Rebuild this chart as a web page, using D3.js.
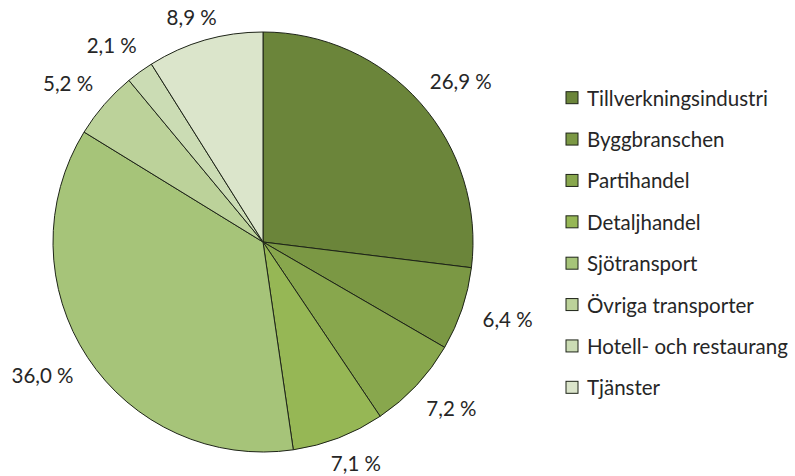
<!DOCTYPE html>
<html><head><meta charset="utf-8">
<script src="https://cdn.jsdelivr.net/npm/d3@7"></script>
<style>body{margin:0;background:#fff}svg{display:block}text{font-family:"Lato","Open Sans",sans-serif;fill:#262626}</style>
</head><body><svg id="c" width="795" height="476"></svg>
<script>
const categories = ["Tillverkningsindustri","Byggbranschen","Partihandel","Detaljhandel","Sjötransport","Övriga transporter","Hotell- och restaurang","Tjänster"];
const values = [26.9, 6.4, 7.2, 7.1, 36.0, 5.2, 2.1, 8.9];
const labels = ["26,9 %","6,4 %","7,2 %","7,1 %","36,0 %","5,2 %","2,1 %","8,9 %"];
const colors = ["#6b853a","#7b9844","#88a74d","#96b755","#a6c479","#bcd29a","#cbdcb4","#dbe5cb"];

const svg = d3.select("#c");
const W = 795, H = 476;
const cx = 263, cy = 242, r = 210;
const fs = 20.5;
const data = categories.map((c,i)=>({cat:c, v:values[i], lab:labels[i], col:colors[i]}));
const pie = d3.pie().value(d=>d.v).sort(null);
const arcs = pie(data);
const arc = d3.arc().innerRadius(0).outerRadius(r);
const g = svg.append("g").attr("transform",`translate(${cx},${cy})`);
g.selectAll("path").data(arcs).enter().append("path")
 .attr("d",arc).attr("fill",d=>d.data.col).attr("stroke","#1e2418").attr("stroke-width",1);

// labels placed just outside the arc, box pushed outward along the mid-angle, kept inside the canvas
const lt = g.selectAll("text.lab").data(arcs).enter().append("text")
 .attr("class","lab").attr("text-anchor","middle").attr("dominant-baseline","central")
 .style("font-size",fs+"px").text(d=>d.data.lab);
lt.each(function(d){
  const bb = this.getBBox();
  const a = (d.startAngle+d.endAngle)/2;
  const dx = Math.sin(a), dy = -Math.cos(a);
  const x = dx*(r+23) + dx*bb.width/2;
  let y = dy*(r+23) + dy*bb.height/2*0.8;
  y = Math.max(-cy + bb.height/2 + 5, Math.min(H - cy - bb.height/2 - 1, y));
  d3.select(this).attr("x",x).attr("y",y);
});

const leg = svg.append("g");
const ly = d3.scaleBand().domain(categories).range([77,408]);
const items = leg.selectAll("g").data(data).enter().append("g")
 .attr("transform",d=>`translate(566,${ly(d.cat)+ly.bandwidth()/2})`);
items.append("rect").attr("x",0).attr("y",-6).attr("width",12).attr("height",12)
 .attr("fill",d=>d.col).attr("stroke","#1e2418").attr("stroke-width",1);
items.append("text").attr("x",21).attr("y",0).attr("dominant-baseline","central")
 .style("font-size",fs+"px").text(d=>d.cat);
</script></body></html>
